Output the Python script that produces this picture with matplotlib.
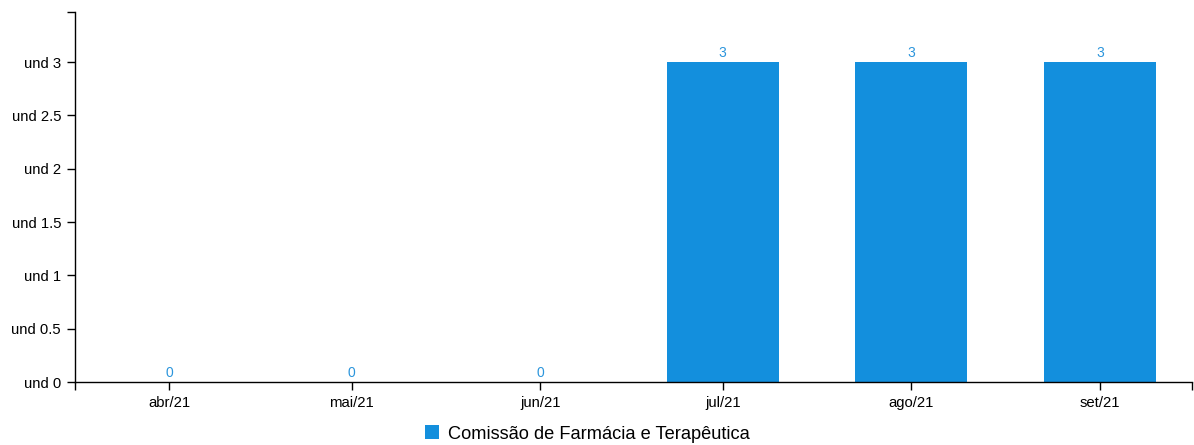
import matplotlib
matplotlib.use("Agg")
import matplotlib.pyplot as plt
import matplotlib.dates as mdates
from datetime import datetime, timedelta

plt.rcParams['font.family'] = ['Liberation Sans', 'DejaVu Sans']

# months (time scale, bars centred on the 1st of each month)
months = ['2021-04-01', '2021-05-01', '2021-06-01', '2021-07-01', '2021-08-01', '2021-09-01']
month_labels = ['abr/21', 'mai/21', 'jun/21', 'jul/21', 'ago/21', 'set/21']
values = [0, 0, 0, 3, 3, 3]
yticks = [0, 0.5, 1, 1.5, 2, 2.5, 3]
series_name = 'Comissão de Farmácia e Terapêutica'

bar_color = '#138fdd'
label_color = '#2b95dc'

fig = plt.figure(figsize=(11.94, 4.45), dpi=100)
ax = fig.add_axes([75/1194, 63/445, (1192-75)/1194, (382-12)/445])

dates = [datetime.strptime(m, '%Y-%m-%d') for m in months]
x = mdates.date2num(dates)
bars = ax.bar(x, values, width=18.4, color=bar_color, label=series_name)

for xi, v in zip(x, values):
    ax.annotate(str(v), (xi, v), xytext=(0, 1.5), textcoords='offset points',
                ha='center', va='bottom', color=label_color, fontsize=10)

xmin = x[0] - 15.45
xmax = x[-1] + 15.12
ax.set_xlim(xmin, xmax)
ax.set_ylim(0, 3.47)
ax.set_xticks(x)
ax.set_xticklabels(month_labels)
ax.set_yticks(yticks)
ax.set_yticklabels(['und %g' % t for t in yticks])

# d3-like outer ticks at axis ends
ax.set_xticks([xmin, xmax], minor=True)
ax.set_yticks([3.47], minor=True)
ax.tick_params(which='both', length=6, width=1, color='black', labelsize=10.7, pad=4)
ax.tick_params(axis='x', which='minor', labelbottom=False)
ax.tick_params(axis='y', which='minor', labelleft=False)

for s in ['top', 'right']:
    ax.spines[s].set_visible(False)
ax.spines['left'].set_linewidth(1)
ax.spines['bottom'].set_linewidth(1)

fig.legend(handles=[bars], labels=[series_name], loc='center',
           bbox_to_anchor=(587/1194, 1 - 434/445), frameon=False,
           fontsize=13.15, handlelength=0.8, handleheight=0.8, handletextpad=0.45)

fig.savefig('out.png', dpi=100)
